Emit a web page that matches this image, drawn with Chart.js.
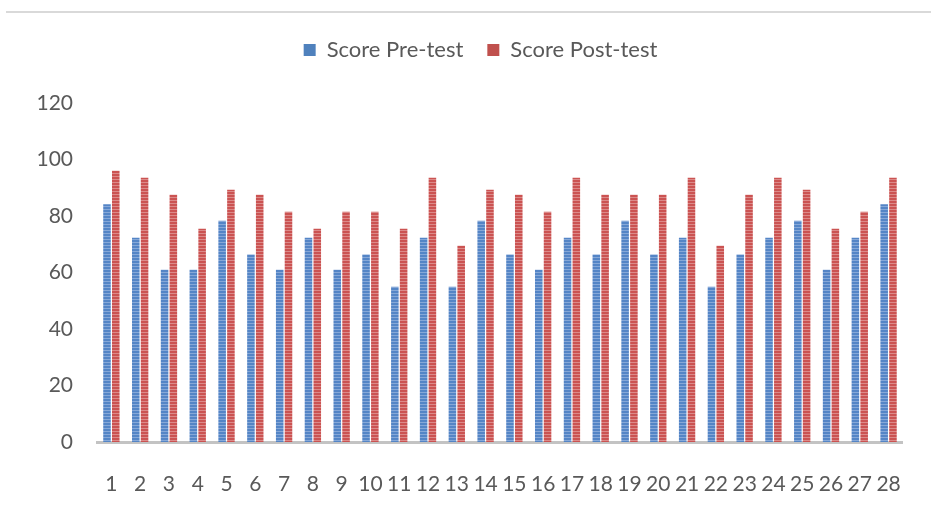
<!DOCTYPE html>
<html>
<head>
<meta charset="utf-8">
<script src="https://cdn.jsdelivr.net/npm/chart.js@4"></script>
<style>
    body { margin: 0; background: #fff; }
    #wrap { position: relative; width: 931px; height: 519px; }
    #topLine { position: absolute; left: 6px; right: 0; top: 11px; height: 2px; background: #d9d9d9; }
</style>
</head>
<body>
<div id="wrap">
    <div id="topLine"></div>
    <canvas id="barChartScore" width="931" height="519"></canvas>
</div>
<script>
const hocSinh = ['1', '2', '3', '4', '5', '6', '7', '8', '9', '10', '11', '12', '13', '14',
    '15', '16', '17', '18', '19', '20', '21', '22', '23', '24', '25', '26', '27', '28'];
const diemTruoc = [84.2, 72.3, 61, 61, 78.3, 66.4, 61, 72.3, 61, 66.4, 55, 72.3, 55, 78.3,
    66.4, 61, 72.3, 66.4, 78.3, 66.4, 72.3, 55, 66.4, 72.3, 78.3, 61, 72.3, 84.2];
const diemSau = [96, 93.5, 87.5, 75.5, 89.3, 87.5, 81.5, 75.5, 81.5, 81.5, 75.5, 93.5, 69.5, 89.3,
    87.5, 81.5, 93.5, 87.5, 87.5, 87.5, 93.5, 69.5, 87.5, 93.5, 89.3, 75.5, 81.5, 93.5];
const yTicks = [0, 20, 40, 60, 80, 100, 120];

const mauXanh = '#4F81BD';
const mauDo = '#C0504D';

// sọc ngang nhẹ giống hình gốc
function taoSoc(mau, mauNhat) {
    const c = document.createElement('canvas');
    c.width = 4; c.height = 3;
    const ctx = c.getContext('2d');
    ctx.fillStyle = mau;
    ctx.fillRect(0, 0, 4, 3);
    ctx.fillStyle = mauNhat;
    ctx.fillRect(0, 2, 4, 1);
    return ctx.createPattern(c, 'repeat');
}

const chu = { family: 'Lato, "Open Sans", sans-serif', size: 21 };

// thêm khoảng trống dưới chú thích, dời chú thích sang phải một chút
const legendGap = {
    id: 'legendGap',
    beforeInit(chart) {
        const fitGoc = chart.legend.fit;
        chart.legend.fit = function () {
            fitGoc.bind(chart.legend)();
            this.height += 32;
        };
    },
    afterLayout(chart) {
        chart.legend.left += 22;
        chart.legend.right += 22;
    }
};

new Chart(document.getElementById('barChartScore'), {
    type: 'bar',
    data: {
        labels: hocSinh,
        datasets: [{
            label: 'Score Pre-test',
            data: diemTruoc,
            backgroundColor: taoSoc('#5485c6', '#86a8d8'),
            legendColor: mauXanh
        }, {
            label: 'Score Post-test',
            data: diemSau,
            backgroundColor: taoSoc('#cb5352', '#dc8a89'),
            legendColor: mauDo
        }]
    },
    plugins: [legendGap],
    options: {
        responsive: false,
        animation: false,
        datasets: { bar: { categoryPercentage: 0.61, barPercentage: 0.86 } },
        layout: { padding: { top: 15, right: 14, bottom: 0, left: 0 } },
        plugins: {
            tooltip: { enabled: false },
            legend: {
                position: 'top',
                labels: {
                    font: { family: chu.family, size: 22 },
                    color: '#595959',
                    boxWidth: 12,
                    boxHeight: 12,
                    padding: 24,
                    generateLabels: chart => chart.data.datasets.map((ds, i) => ({
                        text: ds.label,
                        fillStyle: ds.legendColor,
                        strokeStyle: ds.legendColor,
                        lineWidth: 0,
                        fontColor: '#595959',
                        datasetIndex: i
                    }))
                }
            }
        },
        scales: {
            x: {
                grid: { display: false, drawTicks: false },
                border: { color: '#c3c3c3', width: 3 },
                ticks: { font: chu, color: '#595959', padding: 30, maxRotation: 0, autoSkip: false },
                afterFit: scale => { scale.height = 77; }
            },
            y: {
                min: 0,
                max: 120,
                afterBuildTicks: scale => { scale.ticks = yTicks.map(v => ({ value: v })); },
                grid: { display: false, drawTicks: false },
                border: { display: false },
                ticks: { font: chu, color: '#595959', padding: 24 },
                afterFit: scale => { scale.width = 97; }
            }
        }
    }
});
</script>
</body>
</html>
